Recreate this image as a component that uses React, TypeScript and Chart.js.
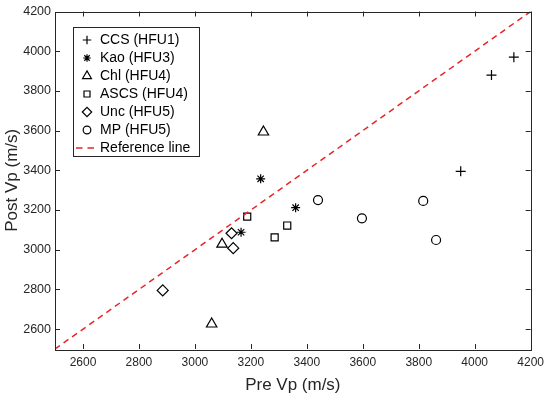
import React, { useEffect, useRef } from 'react';
import { Chart, registerables } from 'chart.js';
import { drawPoint } from 'chart.js/helpers';

Chart.register(...registerables);

// ---- data ----
const ccsX = [4140, 4060, 3950];
const ccsY = [3970, 3880, 3395];
const kaoX = [3235, 3360, 3165];
const kaoY = [3357, 3212, 3088];
const chlX = [3245, 3097, 3060];
const chlY = [3593, 3028, 2626];
const ascsX = [3187, 3285, 3330];
const ascsY = [3167, 3062, 3122];
const uncX = [3131, 3137, 2885];
const uncY = [3083, 3008, 2795];
const mpX = [3440, 3816, 3597, 3862];
const mpY = [3250, 3246, 3158, 3049];
const refX = [2500, 4200];
const refY = [2500, 4200];

const xTicks = [2600, 2800, 3000, 3200, 3400, 3600, 3800, 4000, 4200];
const yTicks = [2600, 2800, 3000, 3200, 3400, 3600, 3800, 4000, 4200];

const seriesNames = ['CCS (HFU1)', 'Kao (HFU3)', 'Chl (HFU4)', 'ASCS (HFU4)', 'Unc (HFU5)', 'MP (HFU5)', 'Reference line'];

const FONT = '"Liberation Sans", Arial, Helvetica, sans-serif';
const AXIS = '#262626';
const RED = '#e8262a';

const zip = (xs: number[], ys: number[]) => xs.map((x, i) => ({ x, y: ys[i] }));

const markerSpecs = [
  { style: 'cross', r: 5 },
  { style: 'star', r: 4.5 },
  { style: 'triangle', r: 6 },
  { style: 'rect', r: 5 },
  { style: 'rectRot', r: 5.5 },
  { style: 'circle', r: 4.5 },
];

const boxPlugin = {
  id: 'boxTicks',
  afterDatasetsDraw(chart: any) {
    const { ctx, chartArea: a, scales } = chart;
    ctx.save();
    ctx.strokeStyle = AXIS;
    ctx.lineWidth = 1;
    ctx.strokeRect(Math.round(a.left) + 0.5, Math.round(a.top) + 0.5, Math.round(a.right - a.left), Math.round(a.bottom - a.top));
    const tl = 5;
    ctx.beginPath();
    scales.x.ticks.forEach((t: any) => {
      const px = Math.round(scales.x.getPixelForValue(t.value)) + 0.5;
      ctx.moveTo(px, a.bottom); ctx.lineTo(px, a.bottom - tl);
      ctx.moveTo(px, a.top); ctx.lineTo(px, a.top + tl);
    });
    scales.y.ticks.forEach((t: any) => {
      const py = Math.round(scales.y.getPixelForValue(t.value)) + 0.5;
      ctx.moveTo(a.left, py); ctx.lineTo(a.left + tl, py);
      ctx.moveTo(a.right, py); ctx.lineTo(a.right - tl, py);
    });
    ctx.stroke();
    ctx.restore();
  },
  afterDraw(chart: any) {
    const { ctx } = chart;
    ctx.save();
    const bx = 73.5, by = 27.5, bw = 126, bh = 129;
    ctx.fillStyle = '#fff';
    ctx.fillRect(bx, by, bw, bh);
    ctx.strokeStyle = AXIS;
    ctx.lineWidth = 1;
    ctx.strokeRect(bx, by, bw, bh);
    ctx.font = `14px ${FONT}`;
    ctx.textBaseline = 'middle';
    ctx.textAlign = 'left';
    seriesNames.forEach((name, i) => {
      const y = 40 + 18 * i;
      if (i < markerSpecs.length) {
        ctx.strokeStyle = '#000';
        ctx.fillStyle = 'rgba(0,0,0,0)';
        ctx.lineWidth = 1.2;
        drawPoint(ctx, { pointStyle: markerSpecs[i].style as any, radius: markerSpecs[i].r * 0.85, rotation: 0, borderWidth: 1.2 }, 87, y);
      } else {
        ctx.strokeStyle = RED;
        ctx.lineWidth = 1.5;
        ctx.setLineDash([6.5, 5]);
        ctx.beginPath();
        ctx.moveTo(76, y); ctx.lineTo(96, y);
        ctx.stroke();
        ctx.setLineDash([]);
      }
      ctx.fillStyle = '#000';
      ctx.fillText(name, 100, y + 0.5);
    });
    ctx.restore();
  },
};

export default function App() {
  const ref = useRef<HTMLCanvasElement>(null);
  useEffect(() => {
    const xs = [ccsX, kaoX, chlX, ascsX, uncX, mpX];
    const ys = [ccsY, kaoY, chlY, ascsY, uncY, mpY];
    const pointSets = xs.map((x, i) => ({
      label: seriesNames[i],
      data: zip(x, ys[i]),
      showLine: false,
      pointStyle: markerSpecs[i].style,
      pointRadius: markerSpecs[i].r,
      pointHoverRadius: markerSpecs[i].r,
      pointBorderColor: '#000',
      pointBackgroundColor: 'rgba(0,0,0,0)',
      pointBorderWidth: 1.2,
      borderColor: '#000',
      backgroundColor: 'rgba(0,0,0,0)',
      clip: false as any,
    }));
    const chart = new Chart(ref.current!, {
      type: 'scatter',
      data: {
        datasets: [
          {
            label: seriesNames[6],
            data: zip(refX, refY),
            showLine: true,
            pointRadius: 0,
            borderColor: RED,
            borderWidth: 1.5,
            borderDash: [6, 4.5],
            backgroundColor: RED,
          } as any,
          ...pointSets,
        ],
      },
      options: {
        animation: false,
        responsive: true,
        maintainAspectRatio: false,
        layout: { padding: { top: 7.5, right: 15.5, left: 0, bottom: 0 } },
        plugins: { legend: { display: false }, tooltip: { enabled: false } },
        scales: {
          x: {
            type: 'linear',
            min: 2500,
            max: 4200,
            afterBuildTicks: (s: any) => { s.ticks = xTicks.map((v) => ({ value: v })); },
            afterFit: (s: any) => { s.height = 47; },
            grid: { display: false, drawTicks: false },
            border: { display: false },
            ticks: { font: { family: FONT, size: 12 }, color: AXIS, padding: 6, maxRotation: 0, callback: (v: any) => String(v) },
            title: { display: true, text: 'Pre Vp (m/s)', font: { family: FONT, size: 17 }, color: AXIS, padding: { top: 4, bottom: 0 } },
          },
          y: {
            type: 'linear',
            min: 2500,
            max: 4200,
            afterBuildTicks: (s: any) => { s.ticks = yTicks.map((v) => ({ value: v })); },
            afterFit: (s: any) => { s.width = 55; },
            grid: { display: false, drawTicks: false },
            border: { display: false },
            ticks: { font: { family: FONT, size: 12.5 }, color: AXIS, padding: 4, callback: (v: any) => String(v) },
            title: { display: true, text: 'Post Vp (m/s)', font: { family: FONT, size: 17 }, color: AXIS, padding: { top: 2, bottom: 0 } },
          },
        },
      },
      plugins: [boxPlugin],
    });
    return () => chart.destroy();
  }, []);
  return (
    <div style={{ position: 'fixed', left: 0, top: 0, width: 550, height: 396, background: '#fff' }}>
      <canvas ref={ref} />
    </div>
  );
}
